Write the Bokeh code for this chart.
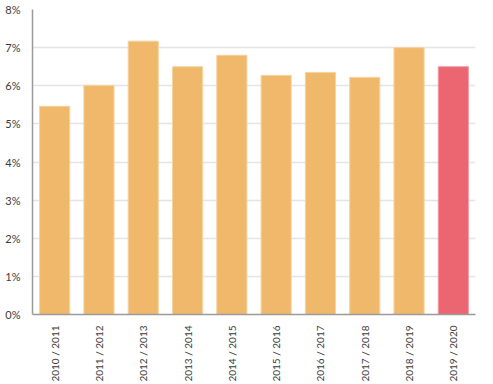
from bokeh.plotting import figure
from bokeh.models import ColumnDataSource, NumeralTickFormatter, FixedTicker, Range1d
from bokeh.embed import file_html
from bokeh.resources import INLINE
import math

seasons = ["2010 / 2011", "2011 / 2012", "2012 / 2013", "2013 / 2014", "2014 / 2015",
           "2015 / 2016", "2016 / 2017", "2017 / 2018", "2018 / 2019", "2019 / 2020"]
rates = [0.0546, 0.0601, 0.0717, 0.0650, 0.0680, 0.0627, 0.0635, 0.0622, 0.0700, 0.0650]
colors = ["#F0B86A"] * 9 + ["#EC6672"]
borders = ["#F6D29E"] * 9 + ["#F29AA2"]
y_ticks = [0, 0.01, 0.02, 0.03, 0.04, 0.05, 0.06, 0.07, 0.08]

src = ColumnDataSource(dict(x=seasons, top=rates, color=colors, border=borders))

p = figure(x_range=seasons, y_range=Range1d(0, 0.08), width=485, height=384,
           output_backend="svg", toolbar_location=None,
           min_border_left=32, min_border_right=10, min_border_top=9, min_border_bottom=66)
p.vbar(x="x", top="top", width=0.68, fill_color="color", line_color="border",
       line_width=1, source=src)

font = "Lato"
p.outline_line_color = None
p.xgrid.grid_line_color = None
p.ygrid.grid_line_color = "#E4E4E4"
p.ygrid.grid_line_width = 1.5
p.yaxis.ticker = FixedTicker(ticks=y_ticks)
p.yaxis.formatter = NumeralTickFormatter(format="0%")
for ax in (p.xaxis, p.yaxis):
    ax.axis_line_color = "#9A9A9A"
    ax.axis_line_width = 1.5
    ax.major_tick_line_color = None
    ax.minor_tick_line_color = None
    ax.major_label_text_font = font
    ax.major_label_text_color = "#3A3A3A"
p.yaxis.major_label_text_font_size = "11px"
p.xaxis.major_label_text_font_size = "10px"
p.xaxis.major_label_orientation = math.pi / 2
p.xaxis.major_label_standoff = 5
p.yaxis.major_label_standoff = 6
p.x_range.range_padding = 0.0

open("out.html", "w").write(file_html(p, INLINE))
